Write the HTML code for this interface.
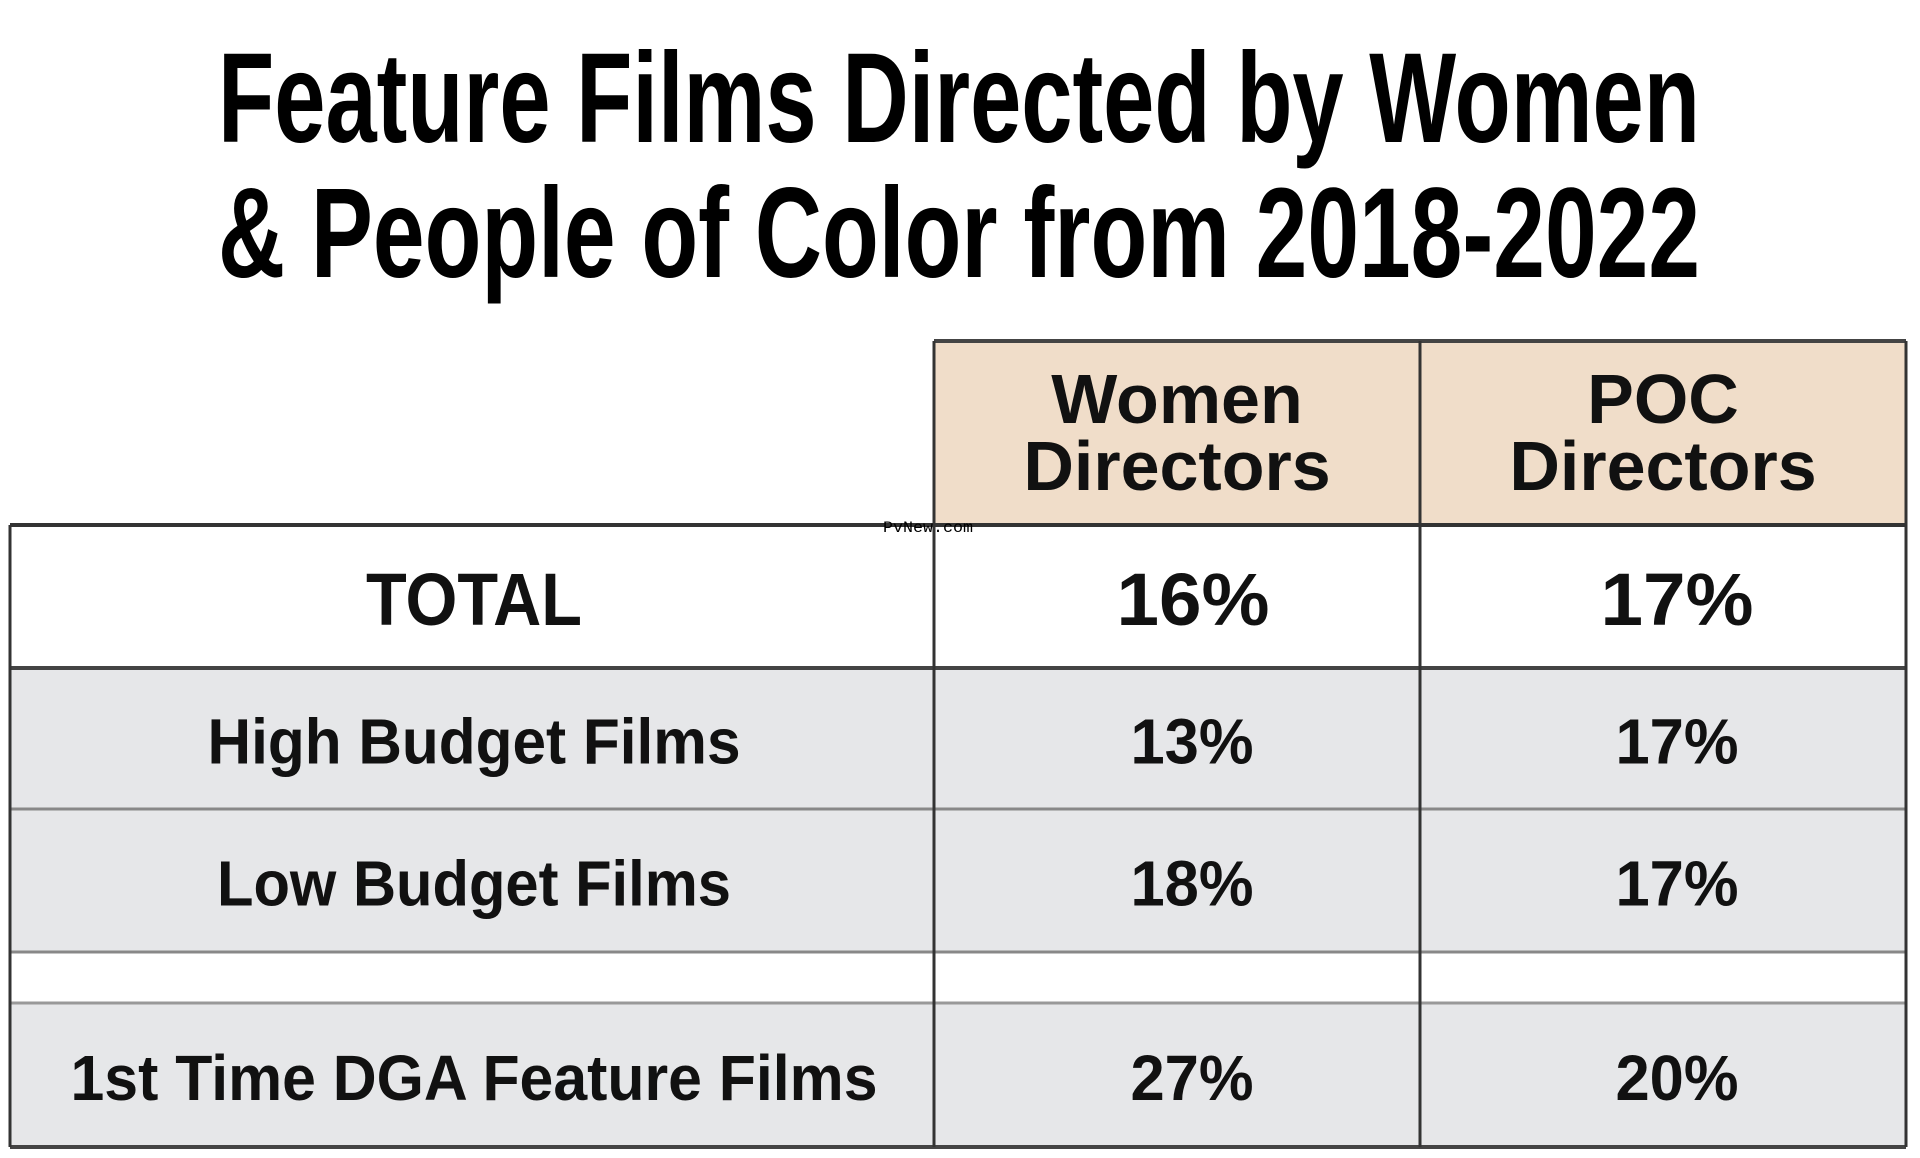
<!DOCTYPE html>
<html><head><meta charset="utf-8">
<style>
html,body{margin:0;padding:0;background:#fff;}
svg{display:block;}
</style></head>
<body>
<svg id="chart" width="1920" height="1158" viewBox="0 0 1920 1158" xmlns="http://www.w3.org/2000/svg">
  <text x="218" y="142" textLength="1482" lengthAdjust="spacingAndGlyphs" font-family="'Liberation Sans Narrow','Liberation Sans',sans-serif" font-weight="bold" font-size="128" fill="#000">Feature Films Directed by Women</text>
  <text x="218" y="277" textLength="1482" lengthAdjust="spacingAndGlyphs" font-family="'Liberation Sans Narrow','Liberation Sans',sans-serif" font-weight="bold" font-size="128" fill="#000">&amp; People of Color from 2018-2022</text>
  <g id="table"></g>
  <text x="883" y="532" textLength="90" lengthAdjust="spacingAndGlyphs" font-family="'Liberation Mono',monospace" font-size="16" fill="#000">PvNew.com</text>
</svg>
<script>
const rowLabels = ["TOTAL","High Budget Films","Low Budget Films","","1st Time DGA Feature Films"];
const womenValues = ["16%","13%","18%","","27%"];
const pocValues = ["17%","17%","17%","","20%"];
const columnHeaders = [["Women","Directors"],["POC","Directors"]];

const NS="http://www.w3.org/2000/svg";
const g=document.getElementById('table');
const rowTops=[525,668,809,952,1003];
const rowBots=[668,809,952,1003,1147];
const colX=[10,934,1420,1906];
const fills=["#fff","#e6e7e9","#e6e7e9","#fff","#e6e7e9"];
const labelWidths=[216,533,514,0,807];
function mk(tag,attrs){const e=document.createElementNS(NS,tag);for(const k in attrs)e.setAttribute(k,attrs[k]);g.appendChild(e);return e;}

for(let c=0;c<2;c++){
  const r=mk('rect',{x:colX[c+1],y:341,width:colX[c+2]-colX[c+1],height:184,fill:'#f0ddc9'});
  
  
  const cx=(colX[c+1]+colX[c+2])/2;
  columnHeaders[c].forEach((t,i)=>{
    const tx=mk('text',{x:cx,y:i===0?423:490,'text-anchor':'middle','font-family':"'Liberation Sans',sans-serif",'font-weight':'bold','font-size':'70',fill:'#111'});
    tx.textContent=t;
    
    
  });
}
rowLabels.forEach((lab,i)=>{
  const r=mk('rect',{x:colX[0],y:rowTops[i],width:colX[3]-colX[0],height:rowBots[i]-rowTops[i],fill:fills[i]});
  
  
  if(!lab)return;
  const isTotal=i===0;
  const base=isTotal?625:(rowTops[i]+(rowBots[i]-rowTops[i])/2+25);
  const fs=isTotal?74:64;
  const t=mk('text',{x:(colX[0]+colX[1])/2+2,y:base,'text-anchor':'middle','font-family':"'Liberation Sans',sans-serif",'font-weight':'bold','font-size':fs,fill:'#111',textLength:labelWidths[i],lengthAdjust:'spacingAndGlyphs'});
  t.textContent=lab;
  
  
  [womenValues[i],pocValues[i]].forEach((v,c)=>{
    const cx=isTotal?(c===0?1193:1677):(c===0?1192:1677);
    const tv=mk('text',{x:cx,y:base,'text-anchor':'middle','font-family':"'Liberation Sans',sans-serif",'font-weight':'bold','font-size':fs,fill:'#111',textLength:isTotal?153:123,lengthAdjust:'spacingAndGlyphs'});
    tv.textContent=v;
    
    
  });
});
const hl=[[525,colX[0],colX[3],4,'#333'],[668,colX[0],colX[3],4,'#444'],[809,colX[0],colX[3],3,'#888'],[952,colX[0],colX[3],3,'#888'],[1003,colX[0],colX[3],3,'#999'],[1147,colX[0],colX[3],4,'#444'],[341,colX[1],colX[3],4,'#444']];
hl.forEach(h=>{const l=mk('line',{x1:h[1],x2:h[2],y1:h[0],y2:h[0],stroke:h[4],'stroke-width':h[3]});
  
  });
[[colX[0],525],[colX[1],341],[colX[2],341],[colX[3],341]].forEach(v=>{const l=mk('line',{x1:v[0],x2:v[0],y1:v[1],y2:1147,stroke:'#333','stroke-width':3});
  
  });
</script>
</body></html>
